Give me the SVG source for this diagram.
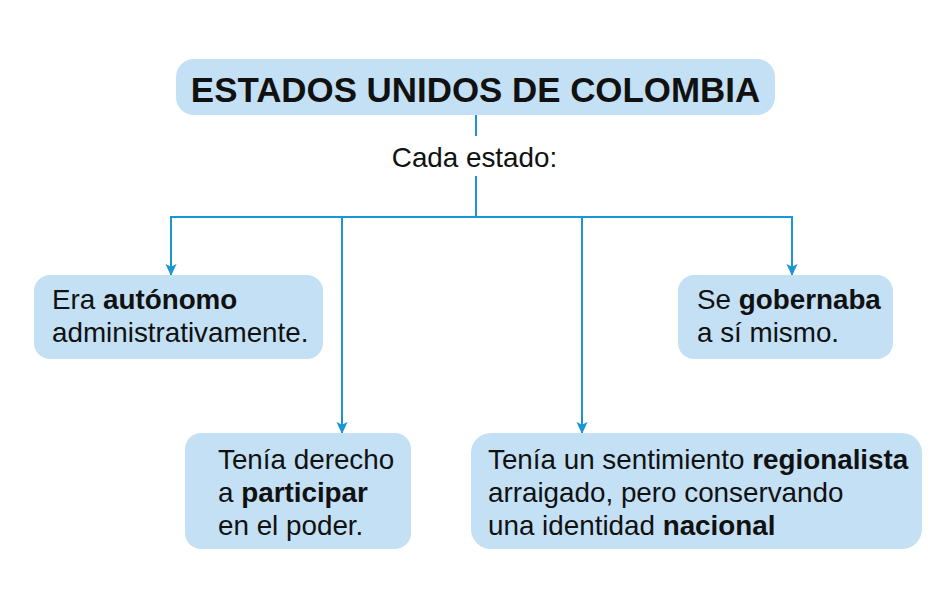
<svg xmlns="http://www.w3.org/2000/svg" width="950" height="608" viewBox="0 0 950 608">
<defs>
<style>
.box{fill:#c4e0f5;}
.t{font-family:"Liberation Sans",Arial,sans-serif;font-size:27.8px;fill:#111;}
.b{font-weight:bold;}
.title{font-family:"Liberation Sans",Arial,sans-serif;font-size:34.9px;font-weight:bold;fill:#111;}
.ln{stroke:#1b96d4;stroke-width:2;fill:none;}
</style>
<marker id="ar" markerWidth="12" markerHeight="13" viewBox="0 0 13 12" refX="12" refY="6" orient="auto" markerUnits="userSpaceOnUse">
<path d="M0,0 L13,6 L0,12 L3,6 Z" fill="#1b96d4"/>
</marker>
</defs>
<rect width="950" height="608" fill="#fff"/>
<g id="connectors">
<line class="ln" x1="476" y1="115" x2="476" y2="136"/>
<polyline class="ln" points="476,176 476,217"/>
<line class="ln" x1="170" y1="217" x2="793" y2="217"/>
<line class="ln" x1="171" y1="217" x2="171" y2="275" marker-end="url(#ar)"/>
<line class="ln" x1="342" y1="217" x2="342" y2="433" marker-end="url(#ar)"/>
<line class="ln" x1="582" y1="217" x2="582" y2="433" marker-end="url(#ar)"/>
<line class="ln" x1="792" y1="217" x2="792" y2="275" marker-end="url(#ar)"/>
</g>
<g id="title">
<rect class="box" x="176" y="59" width="599" height="56" rx="18"/>
<text class="title" x="475.5" y="102" text-anchor="middle">ESTADOS UNIDOS DE COLOMBIA</text>
</g>
<g id="label">
<text class="t" x="474.5" y="167" text-anchor="middle">Cada estado:</text>
</g>
<g id="n1">
<rect class="box" x="34" y="275" width="289" height="84" rx="16"/>
<text class="t" x="52" y="309">Era <tspan class="b">autónomo</tspan></text>
<text class="t" x="52" y="342">administrativamente.</text>
</g>
<g id="n2">
<rect class="box" x="185" y="433" width="226" height="116" rx="16"/>
<text class="t" x="218" y="469">Tenía derecho</text>
<text class="t" x="218" y="502">a <tspan class="b">participar</tspan></text>
<text class="t" x="218" y="535">en el poder.</text>
</g>
<g id="n3">
<rect class="box" x="678" y="275" width="215" height="84" rx="16"/>
<text class="t" x="697" y="309">Se <tspan class="b">gobernaba</tspan></text>
<text class="t" x="697" y="342">a sí mismo.</text>
</g>
<g id="n4">
<rect class="box" x="471" y="433" width="451" height="116" rx="20"/>
<text class="t" x="488" y="469">Tenía un sentimiento <tspan class="b">regionalista</tspan></text>
<text class="t" x="488" y="502">arraigado, pero conservando</text>
<text class="t" x="488" y="535">una identidad <tspan class="b">nacional</tspan></text>
</g>
</svg>
